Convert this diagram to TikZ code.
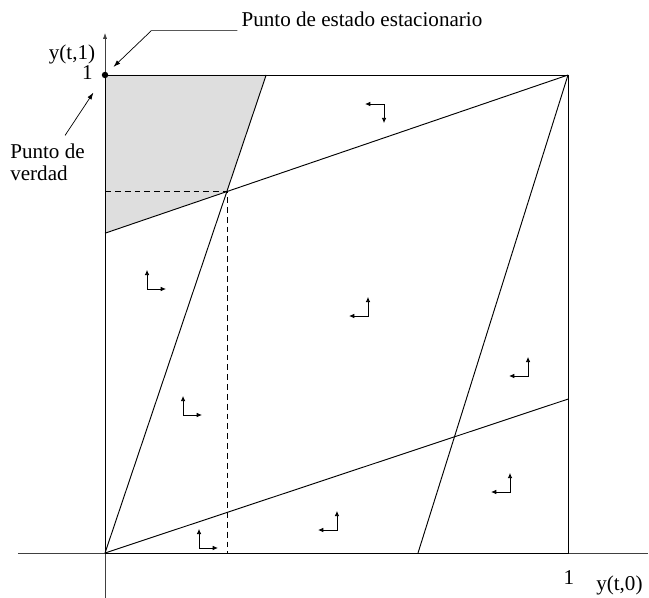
\documentclass[tikz,border=0pt]{standalone}
\usepackage{fontspec}
\setmainfont{Liberation Serif}
\usetikzlibrary{arrows.meta, calc}
\tikzset{
  eje/.style={draw=black!75, line width=0.6pt},
  recta/.style={draw, line width=0.8pt},
  guia/.style={draw, line width=0.7pt, dash pattern=on 5pt off 3.4pt},
  region/.style={fill=black!13},
  flujo/.style={{Latex[length=4.5pt,width=4pt]}-{Latex[length=4.5pt,width=4pt]},
                line width=0.75pt},
  senal/.style={-{Latex[length=6pt,width=4pt]}, line width=0.6pt},
  punto/.style={circle, fill, inner sep=0pt, minimum size=5.5pt},
  texto/.style={font=\fontsize{18}{19}\selectfont},
}

\begin{document}
\begin{tikzpicture}[x=13.89cm, y=14.34cm]
  \useasboundingbox (-0.2268,-0.0941) rectangle (1.1749,1.1569);

  \coordinate (o) at (0,0);
  \coordinate (tr) at (1,1);
  \coordinate (p) at (0.2635,0.757);

  \fill[region] (0,1) -- (0.348,1) -- (p) -- (0,0.669) -- cycle;

  \draw[eje] (-0.188,0) -- (1.173,0);
  \draw[eje, -{Latex[length=5pt,width=3.5pt]}] (0,-0.0941) -- (0,1.088);

  \draw[recta] (o) rectangle (tr);
  \draw[recta] (o) -- (0.348,1);
  \draw[recta] (o) -- (1,0.322);
  \draw[recta] (tr) -- (0,0.669);
  \draw[recta] (tr) -- (0.676,0);

  \draw[guia] (0,0.757) -- (p) -- (0.2635,0);

  \foreach \cx/\cy/\dx/\dy in {0.6026/0.9393/-0.041/-0.040,
                               0.0907/0.5523/0.041/0.040,
                               0.1685/0.2887/0.041/0.040,
                               0.5680/0.4958/-0.041/0.040,
                               0.9136/0.3703/-0.041/0.040,
                               0.8747/0.1276/-0.041/0.040,
                               0.2030/0.0105/0.041/0.040,
                               0.5010/0.0481/-0.041/0.040}
    \draw[flujo] (\cx+\dx,\cy) -- (\cx,\cy) -- (\cx,\cy+\dy);

  \node[punto] (eq) at (0,1) {};

  \node[texto] (ee) at (0.555,1.117) {Punto de estado estacionario};
  \node[texto, align=left] (pv) at (-0.1242,0.818) {Punto de\\verdad};
  \node[texto] (y1) at (-0.0713,1.0439) {y(t,1)};
  \node[texto] (uno1) at (-0.0378,1.0052) {1};
  \node[texto] (uno0) at (1.002,-0.0513) {1};
  \node[texto] (y0) at (1.111,-0.067) {y(t,0)};

  \draw[senal, shorten >=7pt] (ee.south west) -- ++(-0.186,0) -- (eq);
  \draw[senal, shorten <=4pt, shorten >=15pt] (pv) -- (eq);
\end{tikzpicture}
\end{document}
